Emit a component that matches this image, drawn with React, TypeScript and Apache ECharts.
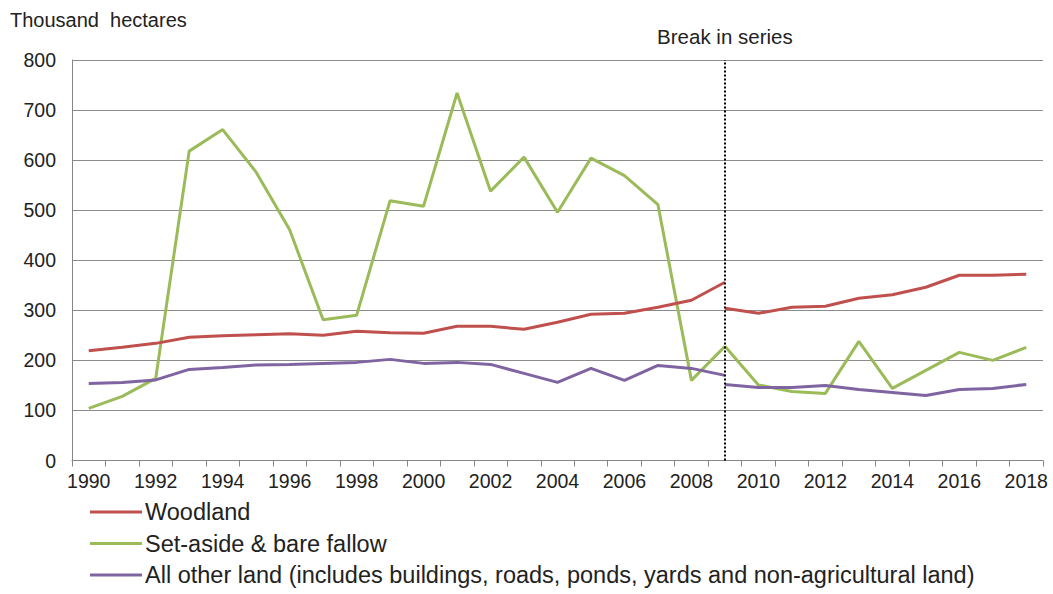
import React, { useEffect, useRef } from "react";
import * as echarts from "echarts";

const years = [
  "1990", "1991", "1992", "1993", "1994", "1995", "1996", "1997", "1998", "1999",
  "2000", "2001", "2002", "2003", "2004", "2005", "2006", "2007", "2008", "2009",
  "2010", "2011", "2012", "2013", "2014", "2015", "2016", "2017", "2018",
];

// Before the break in series (1990-2009)
const woodlandBefore = [219, 226, 234, 246, 249, 251, 253, 250, 258, 255, 254, 268, 268, 262, 276, 292, 294, 306, 320, 356];
const setAsideBefore = [104, 128, 164, 618, 661, 576, 461, 281, 290, 519, 508, 734, 538, 606, 496, 604, 569, 511, 160, 228];
const otherBefore = [154, 156, 161, 182, 186, 191, 192, 194, 196, 202, 194, 196, 192, 174, 156, 184, 160, 190, 184, 170];

// After the break in series (2009-2018)
const woodlandAfter = [304, 294, 306, 308, 324, 331, 346, 370, 370, 372];
const setAsideAfter = [228, 151, 138, 134, 238, 144, 180, 216, 200, 226];
const otherAfter = [152, 146, 146, 150, 142, 136, 130, 142, 144, 152];

const breakYear = "2009";
const yTicks = [0, 100, 200, 300, 400, 500, 600, 700, 800];

const names = [
  "Woodland",
  "Set-aside & bare fallow",
  "All other land (includes buildings, roads, ponds, yards and non-agricultural land)",
];
const colors = ["#C0504D", "#9BBB59", "#8064A2"];

const FONT = "'Liberation Sans', Arial, sans-serif";

function padBefore(arr: number[]) {
  return years.map((_, i) => (i < arr.length ? arr[i] : "-"));
}
function padAfter(arr: number[]) {
  const start = years.length - arr.length;
  return years.map((_, i) => (i >= start ? arr[i - start] : "-"));
}

export default function App() {
  const ref = useRef<HTMLDivElement>(null);
  useEffect(() => {
    if (!ref.current) return;
    const chart = echarts.init(ref.current, null, { renderer: "svg" });
    const before = [woodlandBefore, setAsideBefore, otherBefore];
    const after = [woodlandAfter, setAsideAfter, otherAfter];
    const series: any[] = [];
    names.forEach((n, k) => {
      series.push({
        name: n,
        type: "line",
        data: padBefore(before[k]),
        symbol: "none",
        lineStyle: { width: 3, color: colors[k] },
        itemStyle: { color: colors[k] },
        z: 3 + (k === 1 ? 0 : 1),
      });
      series.push({
        name: n,
        type: "line",
        data: padAfter(after[k]),
        symbol: "none",
        lineStyle: { width: 3, color: colors[k] },
        itemStyle: { color: colors[k] },
        z: 3 + (k === 1 ? 0 : 1),
        markLine:
          k === 0
            ? {
                silent: true,
                symbol: "none",
                lineStyle: { color: "#000", type: [2, 2], width: 2 },
                label: {
                  show: true,
                  position: "end",
                  formatter: "Break in series",
                  color: "#222",
                  fontSize: 20.5,
                  fontFamily: FONT,
                  distance: 13,
                },
                data: [{ xAxis: breakYear }],
              }
            : undefined,
      });
    });
    chart.setOption({
      animation: false,
      backgroundColor: "#fff",
      textStyle: { fontFamily: FONT },
      title: {
        text: "Thousand  hectares",
        left: 5,
        top: 5,
        textStyle: { fontSize: 20, fontWeight: "normal", color: "#222", fontFamily: FONT },
      },
      legend: {
        orient: "vertical",
        left: 85,
        top: 495,
        itemWidth: 52,
        itemHeight: 3,
        itemGap: 7.5,
        icon: "rect",
        data: names,
        textStyle: { fontSize: 23.5, color: "#222", fontFamily: FONT, padding: [0, 0, 0, -2] },
      },
      grid: { left: 72, right: 10, top: 60, bottom: 133.5, containLabel: false },
      xAxis: {
        type: "category",
        data: years,
        boundaryGap: true,
        axisLine: { lineStyle: { color: "#868686", width: 1 } },
        axisTick: { show: true, interval: 0, length: 6, lineStyle: { color: "#868686" } },
        axisLabel: { interval: 1, fontSize: 19.5, color: "#222", margin: 10, fontFamily: FONT },
        splitLine: { show: false },
      },
      yAxis: {
        type: "value",
        min: yTicks[0],
        max: yTicks[yTicks.length - 1],
        interval: 100,
        axisLine: { show: true, lineStyle: { color: "#868686" } },
        axisTick: { show: false },
        axisLabel: { fontSize: 19.5, color: "#222", margin: 16, fontFamily: FONT },
        splitLine: { show: true, lineStyle: { color: "#8c8c8c", width: 1 } },
      },
      series,
    });
    return () => chart.dispose();
  }, []);
  return <div ref={ref} style={{ width: 1053, height: 594, position: "absolute", left: 0, top: 0 }} />;
}
